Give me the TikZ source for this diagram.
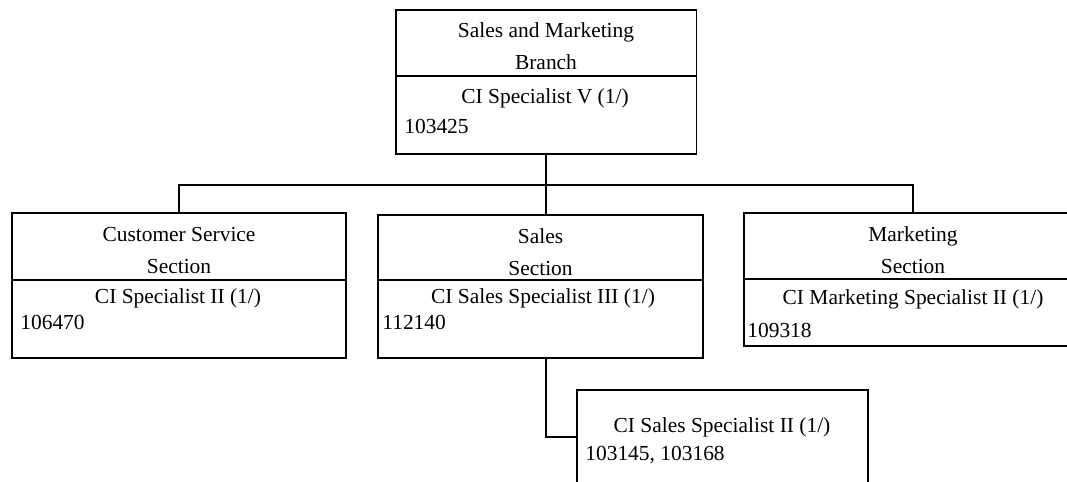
\documentclass[tikz,border=0pt]{standalone}
\usepackage{fontspec}
\setmainfont{Liberation Serif}
\usetikzlibrary{positioning}
\begin{document}
\begin{tikzpicture}[x=0.02cm,y=-0.02cm,
  every node/.style={font=\fontsize{12.2}{18.2}\selectfont},
  head/.style={draw,line width=1.1pt,inner sep=0pt,outer sep=0pt,minimum width=#1,minimum height=1.32cm},
  post/.style={draw,line width=1.1pt,inner sep=0pt,outer sep=0pt,minimum width=#1,minimum height=1.56cm},
  title/.style={inner sep=0pt,align=center},
  job/.style={inner sep=0pt,text height=8.8pt,text depth=2.8pt},
  num/.style={job,anchor=west},
  link/.style={line width=1.1pt}]
\useasboundingbox (0,0) rectangle (1067,482);
% branch
\node[head=6.02cm] (branch) at (546,43) {};
\node[title] (branchtitle) at ([yshift=-2pt]branch.center) {Sales and Marketing\\Branch};
\node[post=6.02cm,below=0pt of branch] (branchpost) {};
\node[job] (branchjob) at (545,98) {CI Specialist V (1/)};
\node[num] (branchnum) at (404,128) {103425};
% sections
\node[head=6.68cm,minimum height=1.34cm] (cust) at (179,246.5) {};
\node[title] (custtitle) at ([yshift=-2.3pt]cust.center) {Customer Service\\Section};
\node[post=6.68cm,below=0pt of cust] (custpost) {};
\node[job] (custjob) at (178,298) {CI Specialist II (1/)};
\node[num] (custnum) at (20,324) {106470};
\node[head=6.5cm,minimum height=1.3cm] (sales) at (540.5,247.5) {};
\node[title] (salestitle) at ([yshift=-2.5pt]sales.center) {Sales\\Section};
\node[post=6.5cm,below=0pt of sales] (salespost) {};
\node[job] (salesjob) at (543,298) {CI Sales Specialist III (1/)};
\node[num] (salesnum) at (382,324) {112140};
\node[head=6.76cm] (mkt) at (913,246) {};
\node[title] (mkttitle) at ([yshift=-2.6pt]mkt.center) {Marketing\\Section};
\node[post=6.76cm,minimum height=1.34cm,below=0pt of mkt] (mktpost) {};
\node[job] (mktjob) at (913,299) {CI Marketing Specialist II (1/)};
\node[num] (mktnum) at (747,332) {109318};
% sales staff
\node[post=5.82cm,minimum height=1.88cm] (staff) at (722.5,437) {};
\node[job] (staffjob) at (722,427) {CI Sales Specialist II (1/)};
\node[num] (staffnum) at (585,455) {103145, 103168};
% lines
\coordinate (bus) at (546,185);
\draw[link] (branchpost.south) -- (bus);
\draw[link] (cust.north) |- (bus) -| (mkt.north);
\draw[link] (bus) -- (bus |- sales.north);
\draw[link] (salespost.south -| bus) |- (staff.west);
\end{tikzpicture}
\end{document}
